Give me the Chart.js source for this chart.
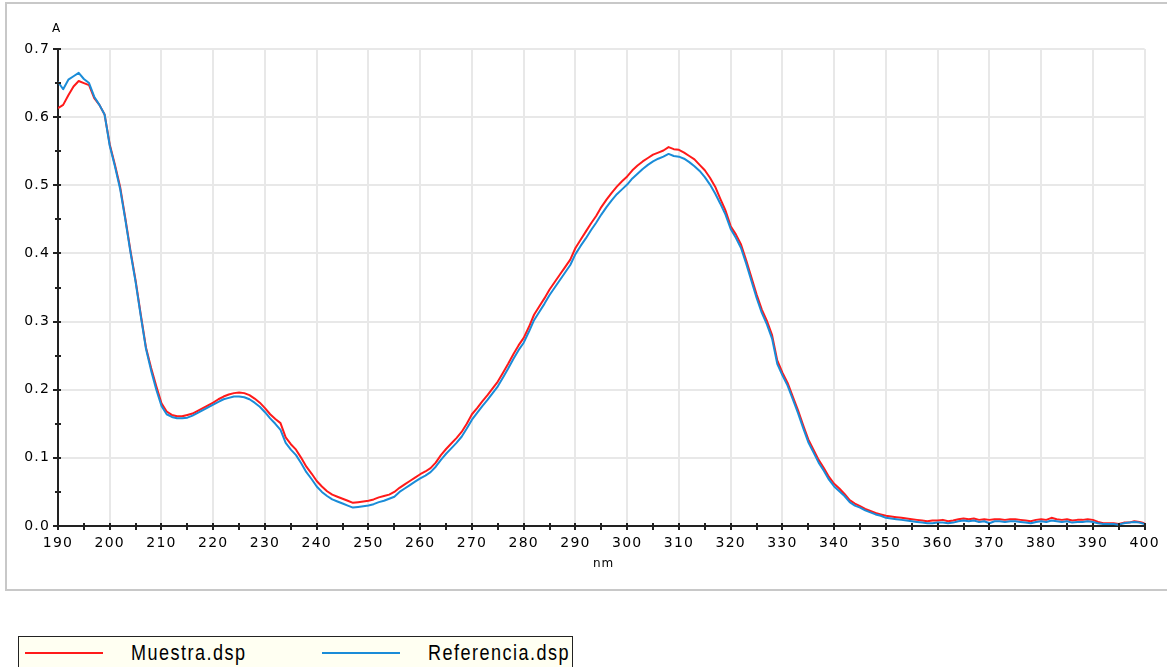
<!DOCTYPE html>
<html>
<head>
<meta charset="utf-8">
<script src="https://cdn.jsdelivr.net/npm/chart.js@4.4.1/dist/chart.umd.min.js"></script>
<style>
  html, body { margin: 0; padding: 0; background: #ffffff; }
  body { width: 1167px; height: 667px; position: relative; overflow: hidden; font-family: "DejaVu Sans", sans-serif; }
  #frame { position: absolute; left: 5px; top: 2px; width: 1170px; height: 585px;
           border-left: 2px solid #c8c8c8; border-top: 2px solid #c8c8c8; border-bottom: 2px solid #c8c8c8; }
  #wrap { position: absolute; left: 0; top: 0; width: 1167px; height: 590px; }
  .axis-title { position: absolute; font-size: 12px; line-height: 12px; color: #000; letter-spacing: 1px; }
  #legend { position: absolute; left: 18px; top: 636px; width: 553px; height: 40px;
            border: 1px solid #222; background: #fffff2; }
  .lg-line { position: absolute; top: 15px; height: 2px; width: 78px; }
  .lg-text { position: absolute; top: 5px; font-family: "Liberation Sans", Arial, sans-serif; font-size: 22px;
             line-height: 22px; color: #000; letter-spacing: 1.8px; white-space: nowrap;
             transform: scaleX(0.82); transform-origin: 0 0; }
</style>
</head>
<body>
<div id="frame"></div>
<div id="wrap"><canvas id="chart" width="1167" height="590"></canvas></div>
<div class="axis-title" style="left:52px; top:22px;">A</div>
<div class="axis-title" style="left:593px; top:557px;">nm</div>
<div id="legend">
  <div class="lg-line" style="left:6px; background:#ff1a1a;"></div>
  <div class="lg-text" style="left:112px;">Muestra.dsp</div>
  <div class="lg-line" style="left:303px; background:#1a8cd8;"></div>
  <div class="lg-text" style="left:409px;">Referencia.dsp</div>
</div>
<script>
// Wavelength axis: 190–400 nm in 1 nm steps
const startNm = 190;
const endNm = 400;
const wavelengths = [];
for (let nm = startNm; nm <= endNm; nm++) wavelengths.push(nm);

// Absorbance of the sample (Muestra.dsp)
const muestra = [
  0.613,0.618,0.632,0.645,0.653,0.650,0.647,0.628,0.618,0.604,
  0.560,0.530,0.498,0.452,0.404,0.360,0.310,0.262,0.232,0.205,
  0.180,0.168,0.163,0.161,0.161,0.163,0.165,0.169,0.173,0.177,
  0.181,0.186,0.190,0.193,0.195,0.196,0.195,0.192,0.187,0.181,
  0.173,0.164,0.157,0.151,0.130,0.120,0.112,0.100,0.087,0.077,
  0.066,0.058,0.051,0.046,0.043,0.040,0.037,0.034,0.035,0.036,
  0.037,0.039,0.042,0.044,0.046,0.050,0.056,0.061,0.066,0.071,
  0.076,0.080,0.085,0.093,0.104,0.113,0.121,0.129,0.138,0.150,
  0.164,0.173,0.183,0.192,0.202,0.212,0.225,0.238,0.252,0.265,
  0.276,0.292,0.310,0.322,0.334,0.347,0.358,0.369,0.380,0.391,
  0.408,0.420,0.432,0.444,0.455,0.468,0.479,0.489,0.498,0.506,
  0.513,0.522,0.529,0.535,0.540,0.545,0.548,0.551,0.556,0.553,
  0.552,0.548,0.543,0.538,0.530,0.522,0.511,0.498,0.480,0.463,
  0.440,0.428,0.413,0.390,0.365,0.340,0.318,0.301,0.280,0.243,
  0.225,0.210,0.190,0.170,0.148,0.127,0.112,0.097,0.085,0.072,
  0.062,0.055,0.047,0.038,0.033,0.029,0.025,0.022,0.019,0.017,
  0.015,0.014,0.013,0.012,0.011,0.010,0.009,0.008,0.007,0.008,
  0.008,0.009,0.007,0.008,0.010,0.011,0.010,0.011,0.009,0.010,
  0.009,0.010,0.010,0.009,0.010,0.010,0.009,0.008,0.007,0.009,
  0.010,0.009,0.012,0.010,0.009,0.010,0.008,0.009,0.009,0.010,
  0.009,0.006,0.004,0.004,0.004,0.003,0.005,0.005,0.007,0.006,
  0.004
];

// Absorbance of the reference (Referencia.dsp)
const referencia = [
  0.652,0.641,0.655,0.660,0.665,0.656,0.650,0.630,0.618,0.604,
  0.558,0.528,0.495,0.450,0.402,0.358,0.308,0.260,0.228,0.200,
  0.176,0.164,0.160,0.158,0.158,0.159,0.162,0.166,0.170,0.174,
  0.178,0.182,0.186,0.188,0.190,0.190,0.189,0.186,0.181,0.175,
  0.167,0.158,0.150,0.141,0.122,0.112,0.104,0.092,0.079,0.069,
  0.058,0.050,0.044,0.039,0.036,0.033,0.030,0.027,0.028,0.029,
  0.030,0.032,0.035,0.037,0.040,0.043,0.050,0.055,0.060,0.065,
  0.070,0.074,0.079,0.087,0.097,0.106,0.114,0.122,0.131,0.143,
  0.156,0.166,0.176,0.185,0.195,0.205,0.218,0.231,0.245,0.258,
  0.269,0.285,0.302,0.314,0.326,0.339,0.350,0.361,0.372,0.383,
  0.399,0.411,0.422,0.434,0.445,0.457,0.468,0.478,0.487,0.494,
  0.501,0.510,0.517,0.524,0.530,0.535,0.539,0.542,0.546,0.543,
  0.542,0.539,0.534,0.528,0.521,0.512,0.501,0.488,0.473,0.457,
  0.436,0.423,0.408,0.385,0.360,0.335,0.313,0.296,0.275,0.238,
  0.221,0.206,0.186,0.166,0.144,0.123,0.108,0.093,0.081,0.068,
  0.058,0.051,0.044,0.035,0.030,0.027,0.023,0.020,0.017,0.015,
  0.012,0.011,0.010,0.009,0.008,0.007,0.006,0.005,0.004,0.004,
  0.005,0.005,0.004,0.005,0.007,0.008,0.007,0.008,0.006,0.007,
  0.004,0.007,0.007,0.006,0.007,0.007,0.006,0.005,0.004,0.006,
  0.007,0.006,0.008,0.007,0.006,0.007,0.005,0.006,0.006,0.007,
  0.006,0.004,0.003,0.003,0.003,0.002,0.004,0.005,0.006,0.005,
  0.003
];

const seriesNames = ['Muestra.dsp', 'Referencia.dsp'];
const seriesColors = ['#ff1a1a', '#1a8cd8'];

const toPoints = values => values.map((v, i) => ({ x: wavelengths[i], y: v }));

// Tick marks crossing the axis lines: major and minor ticks on both scales
const axisTicks = {
  id: 'axisTicks',
  beforeDraw(chart) {
    chart.ctx.letterSpacing = '1.2px';
  },
  afterDatasetsDraw(chart) {
    const { ctx, chartArea, scales } = chart;
    const xs = scales.x, ys = scales.y;
    ctx.save();
    ctx.strokeStyle = '#222';
    ctx.lineWidth = 2;
    ctx.beginPath();
    for (let v = 0; v <= 0.7001; v += 0.05) {
      const y = Math.round(ys.getPixelForValue(v));
      const major = Math.abs(v * 10 - Math.round(v * 10)) < 1e-6;
      ctx.moveTo(chartArea.left - (major ? 5 : 3), y);
      ctx.lineTo(chartArea.left + 3, y);
    }
    for (let nm = startNm; nm <= endNm; nm += 5) {
      const x = Math.round(xs.getPixelForValue(nm));
      ctx.moveTo(x, chartArea.bottom - 3);
      ctx.lineTo(x, chartArea.bottom + 4);
    }
    ctx.stroke();
    ctx.restore();
  }
};

new Chart(document.getElementById('chart'), {
  type: 'line',
  data: {
    datasets: [
      { label: seriesNames[0], data: toPoints(muestra), borderColor: seriesColors[0], borderWidth: 2, order: 1 },
      { label: seriesNames[1], data: toPoints(referencia), borderColor: seriesColors[1], borderWidth: 2, order: 0 }
    ]
  },
  options: {
    responsive: false,
    animation: false,
    events: [],
    parsing: false,
    elements: { point: { radius: 0 }, line: { tension: 0, borderJoinStyle: 'round' } },
    layout: { padding: { left: 0, top: 49, right: 20, bottom: 0 } },
    plugins: { legend: { display: false }, tooltip: { enabled: false } },
    scales: {
      x: {
        type: 'linear', min: startNm, max: endNm,
        afterFit(scale) { scale.height = 64; },
        grid: { color: '#e8e8e8', lineWidth: 2, drawTicks: false },
        border: { display: true, color: '#222', width: 2 },
        ticks: { stepSize: 10, autoSkip: false, maxRotation: 0, padding: 9, color: '#000',
                 font: { family: 'DejaVu Sans', size: 14 } }
      },
      y: {
        min: 0, max: 0.7,
        afterFit(scale) { scale.width = 58; },
        grid: { color: '#e8e8e8', lineWidth: 2, drawTicks: false },
        border: { display: true, color: '#222', width: 2 },
        ticks: { stepSize: 0.1, padding: 8, color: '#000',
                 font: { family: 'DejaVu Sans', size: 14 },
                 callback: v => Number(v).toFixed(1) }
      }
    }
  },
  plugins: [axisTicks]
});
</script>
</body>
</html>
